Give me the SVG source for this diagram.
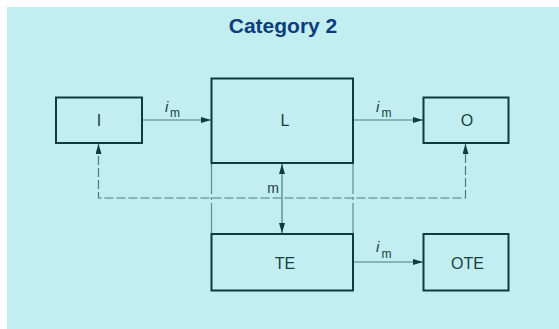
<svg xmlns="http://www.w3.org/2000/svg" width="559" height="329" viewBox="0 0 559 329">
<defs>
<style>
.box{fill:none;stroke:#0f3b3e;stroke-width:2}
.lbl{font-family:"Liberation Sans",Arial,sans-serif;font-size:16px;fill:#163f42;text-anchor:middle}
.ln{fill:none;stroke:#4a7d80;stroke-width:1.2}
.dash{fill:none;stroke:#4a7d80;stroke-width:1.2;stroke-dasharray:9,3}
.dd{fill:none;stroke:#5d8c8f;stroke-width:1.2;stroke-dasharray:30,3,3,3}
.it{font-family:"Liberation Sans",Arial,sans-serif;font-size:15px;font-style:italic;fill:#163f42}
.sub{font-family:"Liberation Sans",Arial,sans-serif;font-size:12px;fill:#163f42}
</style>
<marker id="ah" viewBox="0 0 10 6" refX="10" refY="3" markerWidth="10" markerHeight="6" markerUnits="userSpaceOnUse" orient="auto-start-reverse">
<path d="M0,0 L10,3 L0,6 Z" fill="#0f3b3e"/>
</marker>
</defs>
<rect x="7" y="7" width="552" height="322" fill="#c2eef1"/>
<text x="283" y="32.5" font-family="'Liberation Sans',Arial,sans-serif" font-size="21" font-weight="bold" fill="#0b3d7e" text-anchor="middle">Category 2</text>
<g id="connectors">
<line class="ln" x1="142" y1="120" x2="211" y2="120" marker-end="url(#ah)"/>
<line class="ln" x1="353" y1="120" x2="423" y2="120" marker-end="url(#ah)"/>
<line class="ln" x1="353" y1="262" x2="423" y2="262" marker-end="url(#ah)"/>
<line class="ln" x1="282" y1="164" x2="282" y2="233" marker-start="url(#ah)" marker-end="url(#ah)"/>
<polyline class="dash" points="98.5,144 98.5,198 465.5,198 465.5,144"/>
<path d="M98.5,154 L98.5,144" stroke="none" marker-end="url(#ah)"/>
<path d="M465.5,154 L465.5,144" stroke="none" marker-end="url(#ah)"/>
<line class="dd" x1="211.5" y1="164" x2="211.5" y2="233"/>
<line class="dd" x1="353" y1="164" x2="353" y2="233"/>
<text class="it" x="165" y="111.5">i</text><text class="sub" x="170" y="117">m</text>
<text class="it" x="376" y="111.5">i</text><text class="sub" x="381.5" y="117">m</text>
<text class="it" x="376" y="252">i</text><text class="sub" x="381.5" y="257.5">m</text>
<text x="273" y="193.3" font-family="'Liberation Sans',Arial,sans-serif" font-size="14" fill="#163f42" text-anchor="middle">m</text>
</g>
<g id="node-I"><rect class="box" x="56" y="97.5" width="86" height="45.5"/><text class="lbl" x="99" y="126">I</text></g>
<g id="node-L"><rect class="box" x="211.5" y="78.5" width="141.5" height="84.5"/><text class="lbl" x="285" y="126">L</text></g>
<g id="node-O"><rect class="box" x="423.5" y="97.5" width="85" height="45.5"/><text class="lbl" x="467" y="126">O</text></g>
<g id="node-TE"><rect class="box" x="211.5" y="234" width="141.5" height="56.5"/><text class="lbl" x="285" y="269">TE</text></g>
<g id="node-OTE"><rect class="box" x="423.5" y="234" width="85" height="56.5"/><text class="lbl" x="467.5" y="269">OTE</text></g>
</svg>
